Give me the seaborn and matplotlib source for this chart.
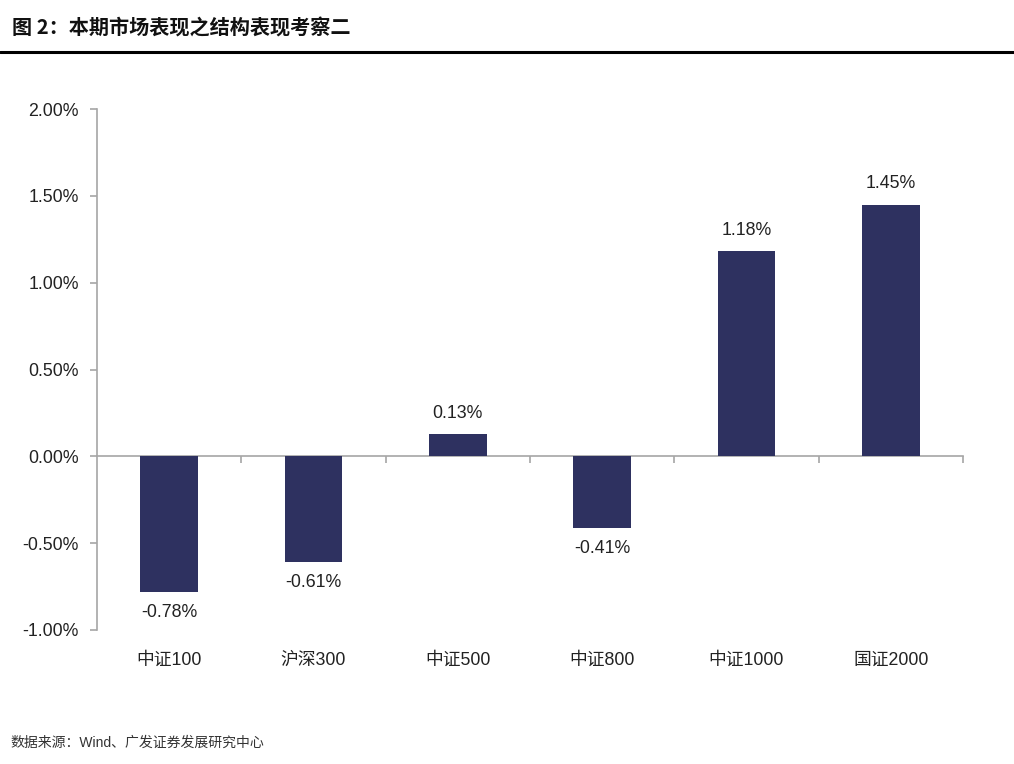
import matplotlib
matplotlib.use('Agg')
import matplotlib.pyplot as plt
from matplotlib.lines import Line2D
from matplotlib.ticker import FuncFormatter
import numpy as np
import pandas as pd
import seaborn as sns

# 数据
categories = ['中证100', '沪深300', '中证500', '中证800', '中证1000', '国证2000']
returns = [-0.78, -0.61, 0.13, -0.41, 1.18, 1.45]   # 单位: %
yticks = [-1.0, -0.5, 0.0, 0.5, 1.0, 1.5, 2.0]

df = pd.DataFrame({'指数': categories, '涨跌幅': returns})

sns.set_style('white')
plt.rcParams['font.family'] = ['Liberation Sans', 'Noto Sans CJK SC', 'DejaVu Sans']
plt.rcParams['axes.unicode_minus'] = False

bar_color = '#2E3160'
axis_gray = '#A6A6A6'
text_color = '#222222'

fig = plt.figure(figsize=(10.14, 7.64), dpi=100)
ax = fig.add_axes([0.0957, 0.1754, 0.854, 0.6819])

sns.barplot(data=df, x='指数', y='涨跌幅', color=bar_color, width=0.4,
            saturation=1, linewidth=0, ax=ax)

ax.set_xlim(-0.5, len(categories) - 0.5)
ax.set_ylim(-1.0, 2.0)
ax.set_yticks(yticks)
ax.yaxis.set_major_formatter(FuncFormatter(lambda v, p: f'{v:.2f}%'))
ax.set_xlabel('')
ax.set_ylabel('')

for s in ['top', 'right', 'bottom']:
    ax.spines[s].set_visible(False)
ax.spines['left'].set_color(axis_gray)
ax.spines['left'].set_linewidth(1.2)
ax.tick_params(axis='y', direction='out', length=5, width=1.2, color=axis_gray,
               labelsize=12.8, labelcolor=text_color, pad=8, left=True)
ax.tick_params(axis='x', length=0, labelsize=12.8, labelcolor=text_color, pad=16)

# 零轴及分隔刻度
zero_pos = (0 - ax.get_ylim()[0]) / (ax.get_ylim()[1] - ax.get_ylim()[0])
zx = ax.secondary_xaxis(zero_pos)
zx.set_xticks(np.arange(len(categories)) + 0.5)
zx.set_xticklabels([])
zx.spines['bottom'].set_color(axis_gray)
zx.spines['bottom'].set_linewidth(1.2)
zx.tick_params(direction='out', length=5, width=1.2, color=axis_gray)

# 数据标签
for i, v in enumerate(returns):
    off = 0.07 if v >= 0 else -0.07
    ax.text(i, v + off, f'{v:.2f}%', ha='center',
            va='bottom' if v >= 0 else 'top', fontsize=12.8, color=text_color)

# 标题与横线
fig.text(0.012, 0.963, '图 2：本期市场表现之结构表现考察二', fontsize=14.5,
         fontweight='semibold', color='#111111', va='center',
         family=['Noto Sans CJK SC', 'DejaVu Sans'])
fig.add_artist(Line2D([0, 1], [0.932, 0.932], color='black', linewidth=2.2,
                      transform=fig.transFigure))
fig.text(0.01, 0.028, '数据来源：Wind、广发证券发展研究中心', fontsize=10,
         color='#333333', va='center')

fig.savefig('out.png', dpi=100, facecolor='white')
